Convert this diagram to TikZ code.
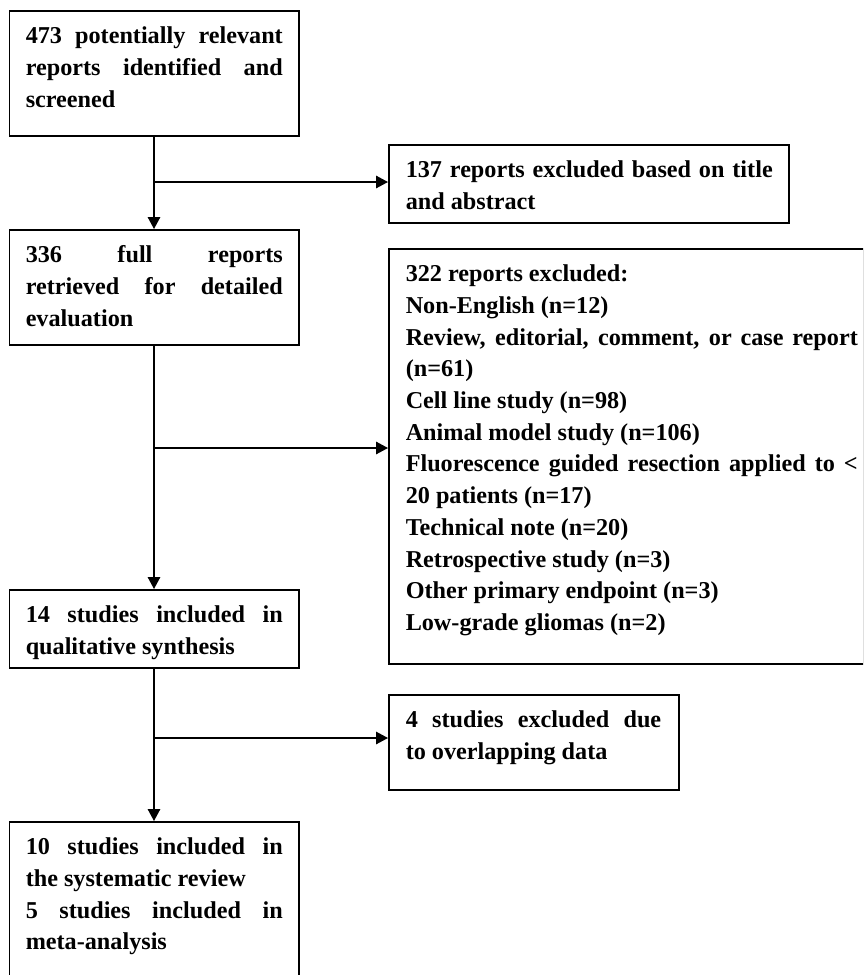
\documentclass[tikz,border=0pt]{standalone}
\usepackage{fontspec}
\setmainfont{Liberation Serif}
\usetikzlibrary{positioning,arrows.meta}
\tikzset{caja/.style={draw, line width=1.5pt, anchor=north west, inner xsep=0pt, inner ysep=10.8pt, font=\bfseries\fontsize{24.2}{31.7}\selectfont}}
\tikzset{flecha/.style={line width=1.5pt, -{Triangle[length=12pt,width=12.5pt]}}}
\newcommand{\textocaja}[5]{\parbox[t][#2][t]{#1}{\leftskip=#3\rightskip=#4\relax\strut #5}}
\tolerance=10000
\hyphenpenalty=10000
\exhyphenpenalty=10000

\begin{document}
\begin{tikzpicture}[x=1pt, y=-1pt]
            \useasboundingbox (0,0) rectangle (863,975);
            \clip (0,0) rectangle (863,975);
            \node[caja] (inicio) at (8.5,10) {\textocaja{289.5pt}{103.4pt}{16.5pt}{16pt}{473 potentially relevant\linebreak reports identified and\linebreak screened}};
            \node[caja] (excl1) at (388,144) {\textocaja{400pt}{56.4pt}{17pt}{16pt}{137 reports excluded based on title\linebreak and abstract}};
            \node[caja] (completos) at (8.5,229) {\textocaja{289.5pt}{93.4pt}{16.5pt}{16pt}{336 full reports\linebreak retrieved for detailed\linebreak evaluation}};
            \node[caja] (excl2) at (388,248) {\textocaja{474.5pt}{393.4pt}{17pt}{5.5pt}{322 reports excluded:\par Non-English (n=12)\par Review, editorial, comment, or case report\linebreak (n=61)\par Cell line study (n=98)\par Animal model study (n=106)\par Fluorescence guided resection applied to <\linebreak 20 patients (n=17)\par Technical note (n=20)\par Retrospective study (n=3)\par Other primary endpoint (n=3)\par Low-grade gliomas (n=2)}};
            \node[caja] (cualitativa) at (8.5,589) {\textocaja{289.5pt}{56.4pt}{16.5pt}{16pt}{14 studies included in\linebreak qualitative synthesis}};
            \node[caja] (excl3) at (388,694) {\textocaja{290pt}{73.4pt}{17pt}{17.5pt}{4 studies excluded due\linebreak to overlapping data}};
            \node[caja] (final) at (8.5,821) {\textocaja{289.5pt}{147.4pt}{16.5pt}{16pt}{10 studies included in\linebreak the systematic review\par 5 studies included in\linebreak meta-analysis}};

            \coordinate (j1) at (153.25,182);
            \coordinate (j2) at (153.25,448);
            \coordinate (j3) at (153.25,738);

            \draw[flecha] (inicio) to (completos);
            \draw[flecha] (completos) to (cualitativa);
            \draw[flecha] (cualitativa) to (final);
            \draw[flecha] (j1) to (j1 -| excl1.west);
            \draw[flecha] (j2) to (j2 -| excl2.west);
            \draw[flecha] (j3) to (j3 -| excl3.west);
\end{tikzpicture}
\end{document}
